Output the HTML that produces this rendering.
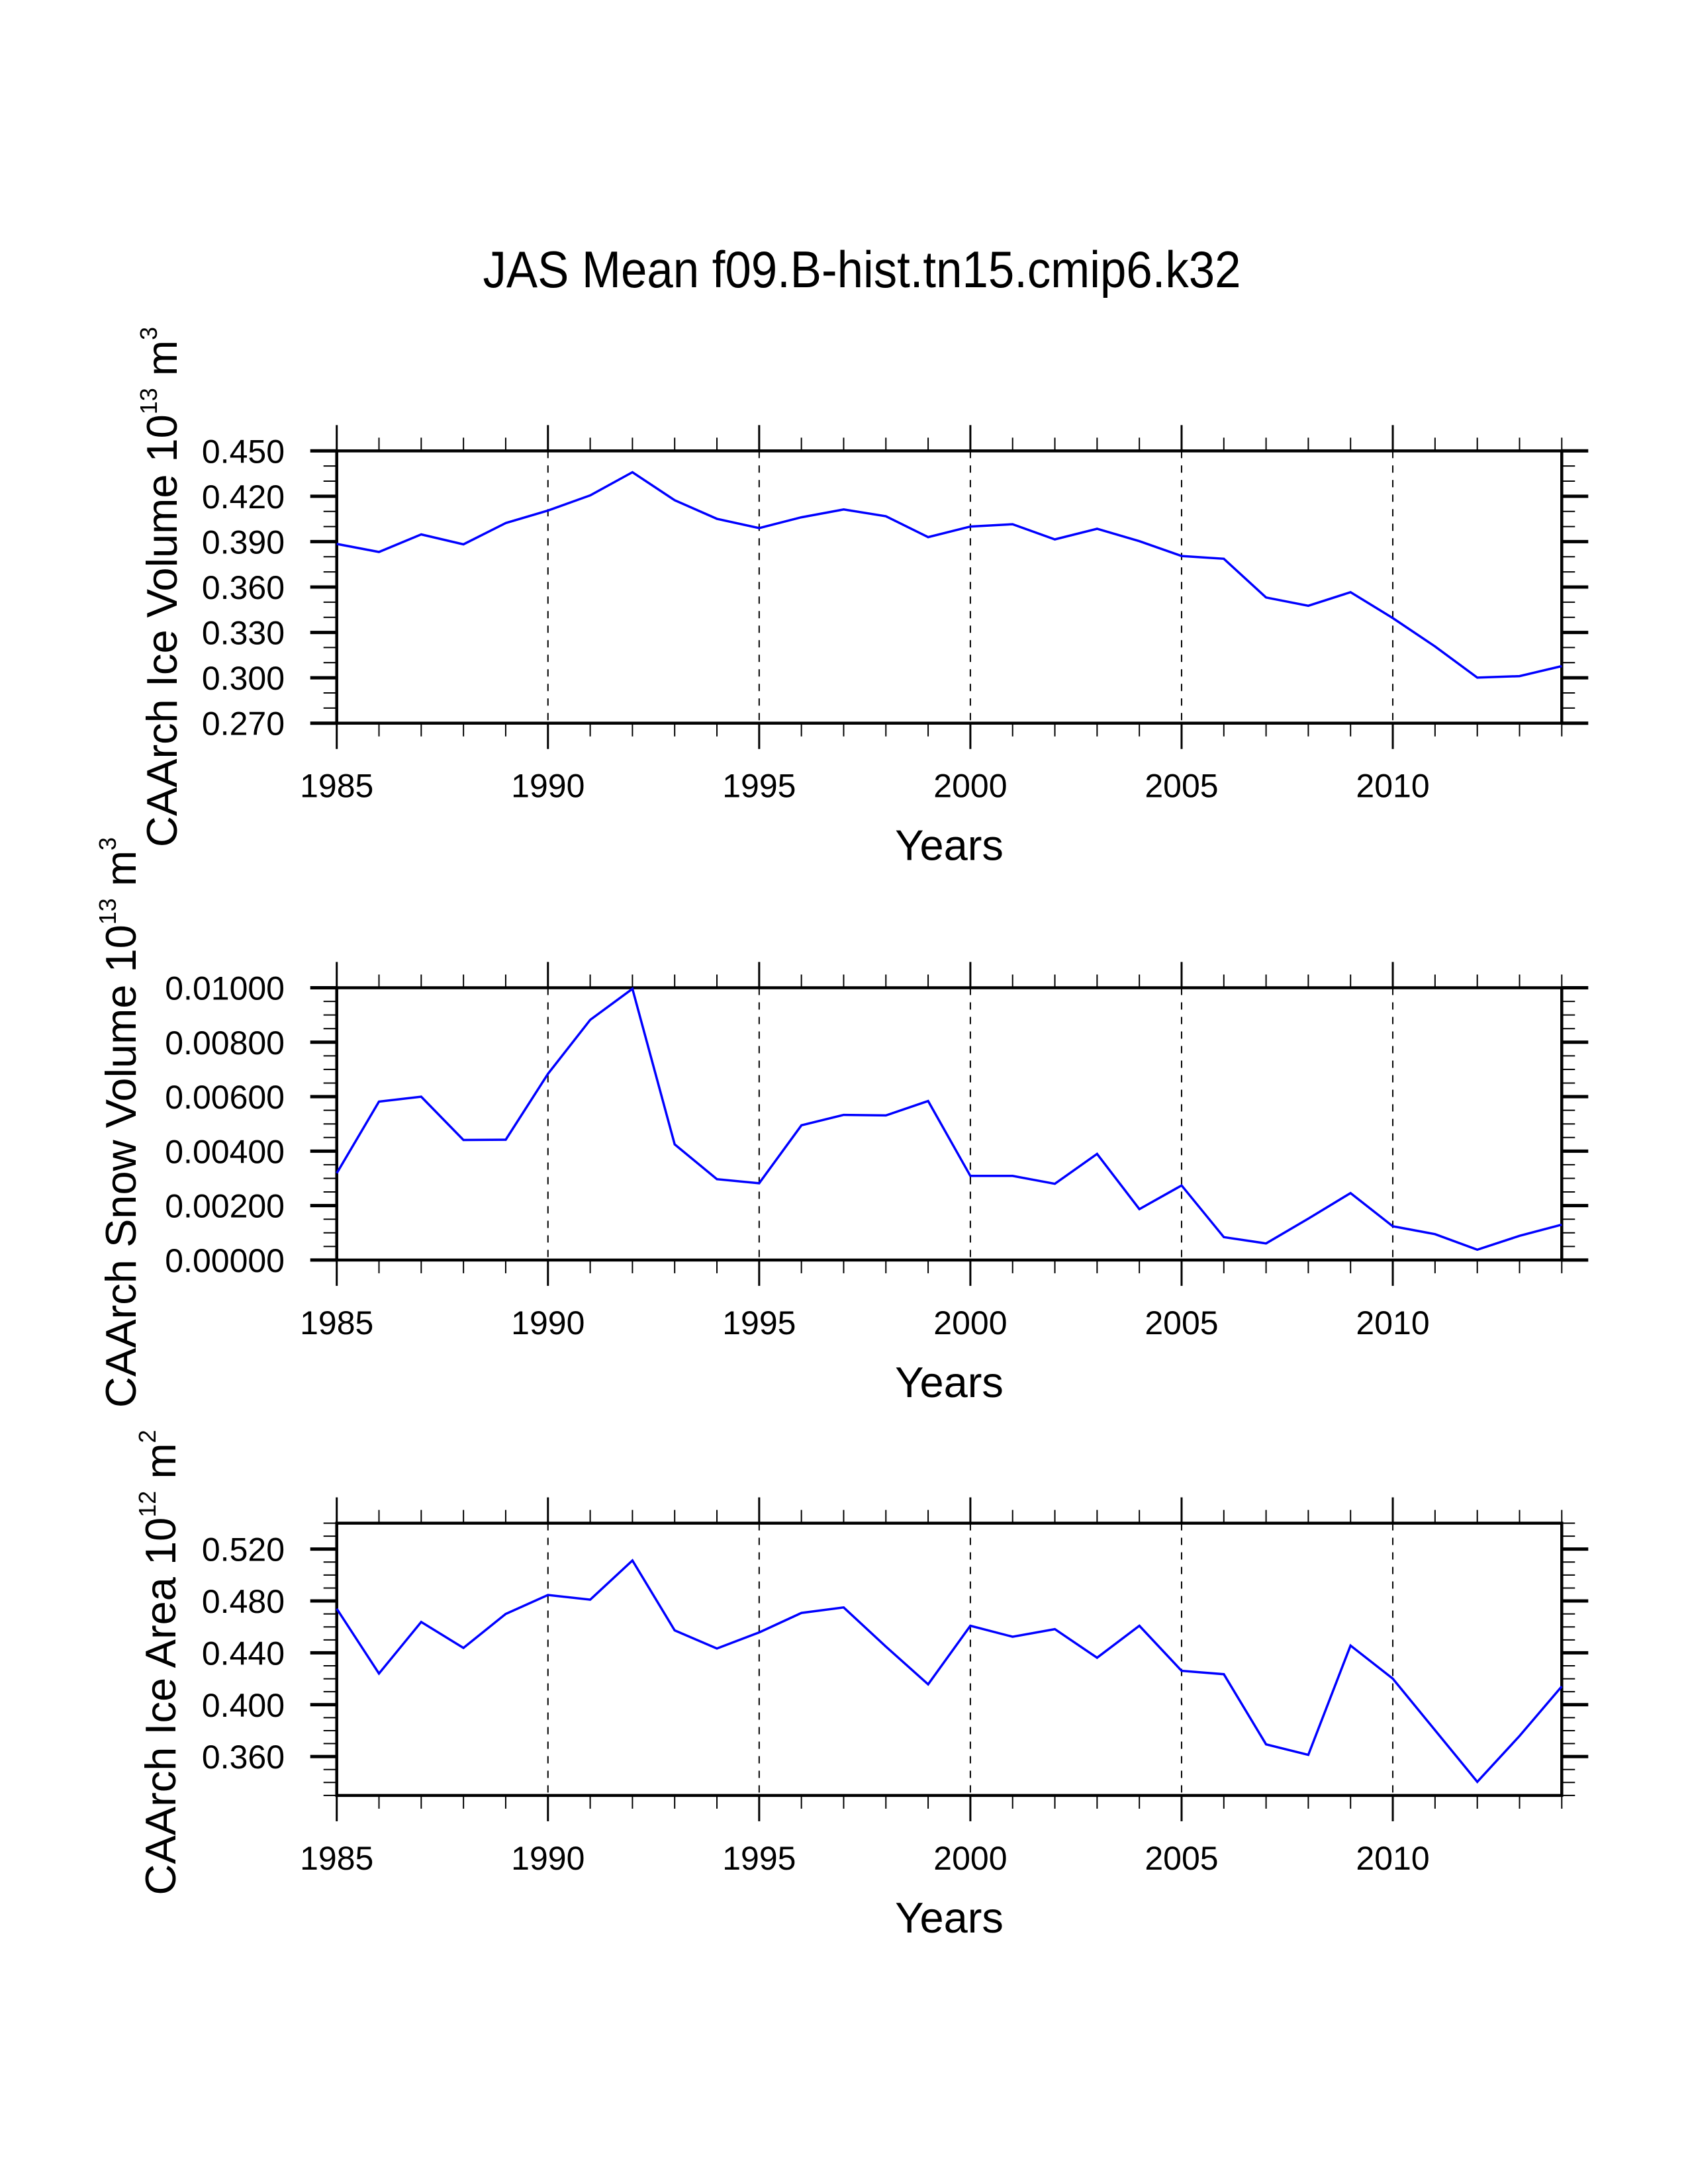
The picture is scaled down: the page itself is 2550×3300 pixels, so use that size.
<!DOCTYPE html>
<html><head><meta charset="utf-8">
<style>
html,body{margin:0;padding:0;background:#fff;}
svg{display:block;font-family:"Liberation Sans",Arial,sans-serif;}
</style></head>
<body>
<svg id="chart" width="2550" height="3300" viewBox="0 0 2550 3300" xmlns="http://www.w3.org/2000/svg">
<rect width="2550" height="3300" fill="#fff"/>
<text x="1302" y="434" font-size="78" text-anchor="middle" textLength="1145" lengthAdjust="spacingAndGlyphs">JAS Mean f09.B-hist.tn15.cmip6.k32</text>
</svg>
<script>
const years = [1985,1986,1987,1988,1989,1990,1991,1992,1993,1994,1995,1996,1997,1998,1999,2000,2001,2002,2003,2004,2005,2006,2007,2008,2009,2010,2011,2012,2013,2014];
const iceVolume = [0.3885,0.3832,0.3948,0.3882,0.4023,0.4106,0.4206,0.4359,0.4174,0.4051,0.3990,0.4061,0.4113,0.4068,0.3930,0.4000,0.4015,0.3915,0.3985,0.3903,0.3805,0.3787,0.3531,0.3476,0.3566,0.3395,0.3207,0.3001,0.3011,0.3077];
const snowVolume = [0.00319,0.00582,0.00600,0.00441,0.00442,0.00684,0.00882,0.00996,0.00425,0.00297,0.00282,0.00495,0.00533,0.00531,0.00584,0.00309,0.00309,0.00280,0.00390,0.00187,0.00274,0.00084,0.00061,0.00152,0.00246,0.00124,0.00095,0.00038,0.00089,0.00130];
const iceArea = [0.4740,0.4240,0.4638,0.4438,0.4700,0.4846,0.4810,0.5112,0.4573,0.4433,0.4557,0.4708,0.4750,0.4448,0.4157,0.4609,0.4524,0.4583,0.4362,0.4609,0.4261,0.4235,0.3694,0.3613,0.4456,0.4201,0.3803,0.3405,0.3759,0.4141];
const xTickLabels = ["1985","1990","1995","2000","2005","2010"];
const volTicks = ["0.270","0.300","0.330","0.360","0.390","0.420","0.450"];
const snowTicks = ["0.00000","0.00200","0.00400","0.00600","0.00800","0.01000"];
const areaTicks = ["0.360","0.400","0.440","0.480","0.520"];

const NS="http://www.w3.org/2000/svg";
const svg=document.getElementById('chart');
function mk(tag,attrs,parent){const e=document.createElementNS(NS,tag);for(const k in attrs)e.setAttribute(k,attrs[k]);(parent||svg).appendChild(e);return e;}

const X0=508.7,X1=2359.3;
function xs(yr){return X0+(yr-1985)/(2014-1985)*(X1-X0);}

function panel(cfg){
  const g=mk('g',{});
  
  
  const top=cfg.top,bot=cfg.top+411.4;
  const ys=v=>bot-(v-cfg.min)/(cfg.max-cfg.min)*(bot-top);
  for(let yr=1990;yr<=2010;yr+=5){
    const l=mk('line',{x1:xs(yr),x2:xs(yr),y1:top,y2:bot,stroke:'#000','stroke-width':2,'stroke-dasharray':'11 11'},g);
    
    
  }
  for(let yr=1985;yr<=2014;yr++){
    const major=(yr%5===0),len=major?39:20,w=major?3:2;
    mk('line',{x1:xs(yr),x2:xs(yr),y1:top,y2:top-len,stroke:'#000','stroke-width':w},g);
    mk('line',{x1:xs(yr),x2:xs(yr),y1:bot,y2:bot+len,stroke:'#000','stroke-width':w},g);
  }
  const nMin=Math.round((cfg.max-cfg.min)/cfg.minor);
  for(let i=0;i<=nMin;i++){
    const v=cfg.min+i*cfg.minor,y=ys(v);
    mk('line',{x1:X0,x2:X0-20,y1:y,y2:y,stroke:'#000','stroke-width':2},g);
    mk('line',{x1:X1,x2:X1+20,y1:y,y2:y,stroke:'#000','stroke-width':2},g);
  }
  cfg.ticks.forEach(t=>{
    const y=ys(parseFloat(t));
    mk('line',{x1:X0,x2:X0-40,y1:y,y2:y,stroke:'#000','stroke-width':5},g);
    mk('line',{x1:X1,x2:X1+40,y1:y,y2:y,stroke:'#000','stroke-width':5},g);
    const tx=mk('text',{x:430,y:y+18,'font-size':50,'text-anchor':'end'},g);
    tx.textContent=t;
    
    
  });
  xTickLabels.forEach(t=>{
    const tx=mk('text',{x:xs(+t),y:bot+112,'font-size':50,'text-anchor':'middle'},g);
    tx.textContent=t;
    
    
  });
  const fr=mk('rect',{x:X0,y:top,width:X1-X0,height:bot-top,fill:'none',stroke:'#000','stroke-width':4.5},g);
  
  
  const pts=cfg.data.map((v,i)=>xs(years[i]).toFixed(1)+','+ys(v).toFixed(1)).join(' ');
  const pl=mk('polyline',{points:pts,fill:'none',stroke:'#0000ff','stroke-width':3.5,'stroke-linejoin':'miter'},g);
  
  
  const xt=mk('text',{x:1434,y:bot+207,'font-size':65,'text-anchor':'middle'},g);
  xt.textContent='Years';
  
  
  const yt=mk('text',{x:0,y:0,'font-size':65,'text-anchor':'middle',transform:'translate('+cfg.tx+','+cfg.ty+') rotate(-90)'},g);
  
  
  const a=mk('tspan',{},yt);a.textContent=cfg.title+' 10';
  const b=mk('tspan',{'font-size':36,dy:-30},yt);b.textContent=cfg.exp;
  const c=mk('tspan',{dy:30},yt);c.textContent=' m';
  const d=mk('tspan',{'font-size':36,dy:-30},yt);d.textContent=cfg.unit;
}

panel({name:'ice-volume-panel',top:681.3,min:0.27,max:0.45,minor:0.01,ticks:volTicks,data:iceVolume,title:'CAArch Ice Volume',exp:'13',unit:'3',tx:267,ty:887});
panel({name:'snow-volume-panel',top:1492.5,min:0,max:0.01,minor:0.0005,ticks:snowTicks,data:snowVolume,title:'CAArch Snow Volume',exp:'13',unit:'3',tx:205,ty:1696});
panel({name:'ice-area-panel',top:2301.5,min:0.33,max:0.54,minor:0.01,ticks:areaTicks,data:iceArea,title:'CAArch Ice Area',exp:'12',unit:'2',tx:265,ty:2512});
</script>
</body></html>
